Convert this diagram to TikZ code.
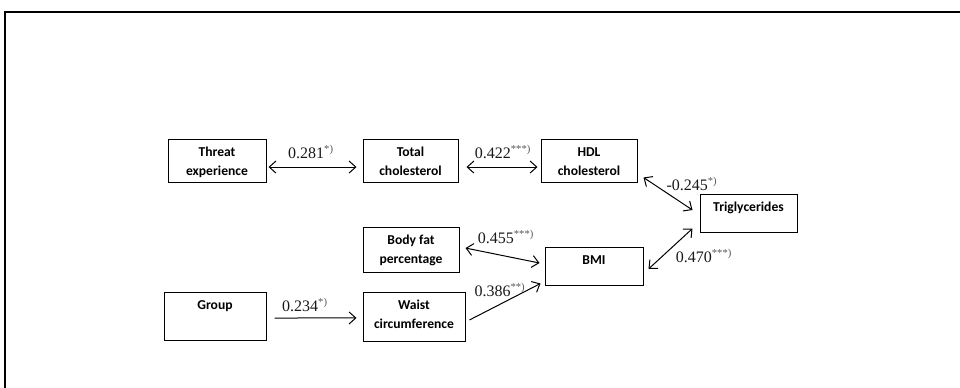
\documentclass[tikz,border=0pt]{standalone}
\usepackage{fontspec}
\setmainfont{Carlito}
\newfontfamily\numfont{Liberation Serif}
\usetikzlibrary{arrows.meta}

\tikzstyle{var}=[draw, line width=0.75pt, inner sep=0pt]
\tikzstyle{varlabel}=[anchor=north, align=center, inner sep=6.5pt, font=\bfseries\fontsize{10.2}{14.25}\selectfont]
\tikzstyle{coef}=[inner sep=0pt, text=black!90, font=\numfont\fontsize{12}{14}\selectfont]
\tikzstyle{link}=[line width=0.75pt, >={Straight Barb[length=5pt,width=9pt]}]
\newcommand{\sig}[1]{\textsuperscript{\color{black!65}#1}}

\begin{document}
\begin{tikzpicture}[x=0.75pt, y=-0.75pt]
			\useasboundingbox (0,0) rectangle (960,387);
			%Outer frame
			\draw[line width=1.5pt] (5,11.5) rectangle (970,400);
			%Adding the variable boxes
			\foreach \pos/\name/\w/\h/\txt in {{(217,160.5)/threat/73.5pt/32.25pt/Threat\\experience},
									{(410.5,160.5)/total/71.25pt/32.25pt/Total\\cholesterol},
									{(589,160.5)/hdl/72pt/32.25pt/HDL\\cholesterol},
									{(748.5,213)/trig/72.75pt/28.5pt/Triglycerides},
									{(411,249.5)/bodyfat/72pt/33.75pt/Body fat\\percentage},
									{(594,266)/bmi/73.5pt/28.5pt/BMI},
									{(215,316)/group/76.5pt/36pt/Group},
									{(414,316.5)/waist/76.5pt/36.75pt/Waist\\circumference}}
			\node[var, minimum width=\w, minimum height=\h, label={[varlabel]north:{\txt}}] (\name) at \pos {};
			%Adding the connections
			\draw[link, <->] ([shift={(1.5pt,-4.9pt)}]threat.east) -- ([shift={(-4.5pt,-4.9pt)}]total.west);
			\draw[link, <->] ([shift={(6pt,-4.9pt)}]total.east) -- ([shift={(-2.25pt,-4.9pt)}]hdl.west);
			\draw[link, <->] ([shift={(4.5pt,3.75pt)}]hdl.south east) -- ([shift={(-5.25pt,2.25pt)}]trig.west);
			\draw[link, <->] ([shift={(3.75pt,-2.25pt)}]bmi.east) -- ([shift={(-5.25pt,3pt)}]trig.south west);
			\draw[link, <->] ([shift={(4.5pt,1.1pt)}]bodyfat.east) -- ([shift={(-3.75pt,2.25pt)}]bmi.west);
			\draw[link, ->] ([shift={(3pt,-2.6pt)}]waist.east) -- ([shift={(-3pt,1.5pt)}]bmi.south west);
			\draw[link, ->] ([shift={(6pt,-1.5pt)}]group.east) -- ([shift={(-4.5pt,-1.1pt)}]waist.west);
			%Adding coefficients
			\node[coef] (c1) at (311,152) {0.281\sig{*)}};
			\node[coef] (c2) at (503,152) {0.422\sig{***)}};
			\node[coef] (c3) at (692,184) {-0.245\sig{*)}};
			\node[coef] (c4) at (704,256) {0.470\sig{***)}};
			\node[coef] (c5) at (506,237) {0.455\sig{***)}};
			\node[coef] (c6) at (500,290) {0.386\sig{**)}};
			\node[coef] (c7) at (305,305) {0.234\sig{*)}};
		\end{tikzpicture}
\end{document}
